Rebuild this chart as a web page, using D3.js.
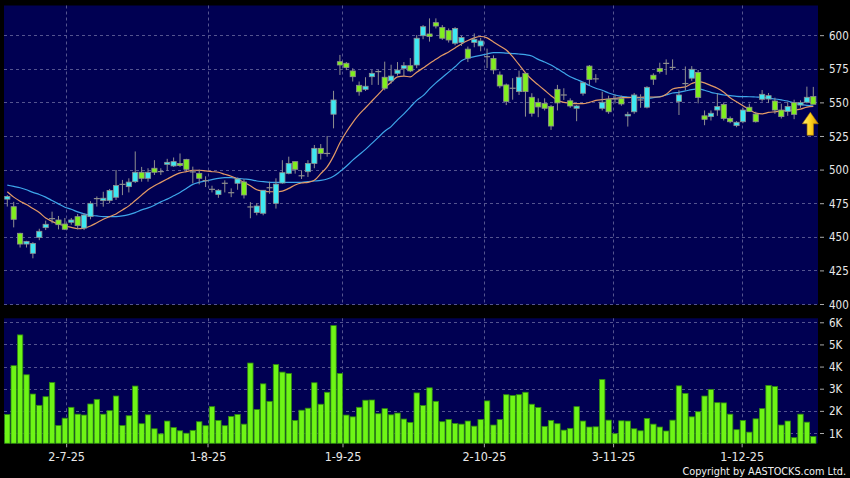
<!DOCTYPE html>
<html>
<head>
<meta charset="utf-8">
<script src="https://cdn.jsdelivr.net/npm/d3@7"></script>
<style>
html,body{margin:0;padding:0;background:#000;}
svg{display:block;}
text{font-family:"DejaVu Sans Condensed","DejaVu Sans",sans-serif;font-stretch:condensed;}
</style>
</head>
<body>
<svg id="chart" width="850" height="478"></svg>
<script>
// ---------- DATA ----------
const opens = [478,472.4,452.6,444.6,437.7,449.6,456.8,463.5,462.5,459.5,
460.8,465,456.5,465,478.4,476.9,477,479.4,489,487.3,
491,498,493.5,501,498.5,503.9,502.7,504.6,507.6,498.3,
497.2,491.8,485.3,481.4,489.8,482.8,489.8,490.8,472.2,468,
467.5,486.5,474.9,490,497.2,505.9,495.4,498.4,504.6,515.8,
512,541.2,580.3,579.1,573.4,562.7,559.7,569.1,572.9,568.7,
566,571.6,575.3,577.3,577.8,599.6,600.9,609.3,605.8,603.4,
594,594.6,589.6,594.6,592,584,582.7,570.4,563,560.5,
558,571.6,553.8,550,549.3,546.9,559.7,555.5,551.2,545.6,
556.8,577,567.5,545.6,552.4,552.5,552.8,539.9,543,551.8,
546.4,570.2,575.3,579,576,550.6,564,568,572.3,540,
539.4,544.3,548.5,538.1,532.7,535.6,546.4,541.3,552.3,552.5,
551,544.3,543.2,549.8,548,550.1,554.3];
const highs = [481,476,453,447,446,456,462,468.7,465.5,464,
464,467,467.5,476.5,480,483.5,485.6,499.7,492.3,493.5,
513.5,502,501,507,501,508,509,512,508,502.2,
500,495,488,485.5,492,486,494,493,475.8,475,
484.8,491,493.5,507,509.6,506,499.5,507,518.3,519,
525,558.6,585.3,580,575.4,565.5,568.7,574,574,580.3,
578,580,580,583,600.1,607.5,612.5,612.5,607.5,605,
606,599.5,591.5,601.3,598,590,585,573,564,568,
573.6,572,556.8,553,553,548,563,560.5,553,548,
565.5,577.8,571,558,555,555.8,555,543,557,556,
562,571.6,579.5,582,582,559,576.7,577,574.1,544,
544,556.7,550,539.5,536,546,549,543,559.2,557,
553.5,549,550.5,552,551.5,561.7,561.5];
const lows = [472.5,457,442,442,434,447.5,455,460,455.5,455,
459,455.5,455,463,472.5,472.4,475,477.4,481,483,
490,491,491,496,496,499,502,502,499,489.8,
489,487,483,479,483,479.5,485,478.5,463.8,466,
466,482,471,489.5,496.5,497,493,494.5,501,507.5,
509.6,530.7,570.4,574,565.5,555,558.5,563,563,559,
564,570,569.5,572.5,575.5,597,595.2,605,596.5,594.5,
592.5,592,580,591,588,575.5,571,560.5,548,552,
555.5,539.4,539.4,539,544,529.5,544,551.8,546,536,
555,563,564.7,544,541.5,549.2,547.5,532,541.5,546,
545.5,563,571.5,570.5,574,540.6,559,566,549.3,533,
536.5,540,536.5,534.5,531.5,534.5,543,535,550.6,549.5,
541.5,538,540,537.5,546,549.3,548.6];
const closes = [480,463,444.6,446.6,445.1,454.1,459.3,463.5,459,455.6,
462.5,458.3,466.2,474.9,478.4,478.7,484.4,488.1,489,490.7,
498,493.5,498,498,498.5,505.4,505.9,503,500.2,498.3,
493.5,491.8,485.3,484.6,489.8,482.8,493,481.1,472.2,472.9,
484.6,486.5,489.2,497.7,504.6,500.2,495.4,504.6,515.8,512,
512,551.8,577.8,575.9,569.1,557.9,562,571.6,572.9,560.5,
569.6,574,577.3,573.4,597.7,606.3,599,606.8,597.7,596.4,
605,598.2,582.9,596.9,595.7,584,574.1,562.2,550.6,560.5,
568.7,558,541.9,546.6,545.6,532.4,549.6,555.5,547.3,547.3,
564.6,567,567.5,550.1,543,552.5,548.8,541.1,555.5,551.8,
561.2,567.2,572.9,579,576,555.5,564,574.6,553.7,537.4,
541.9,546.9,538.1,535.6,535.2,544.3,543.2,535.6,556,555,
544.3,539.4,546.9,541.1,549.8,553.8,548.6];
const volumesK = [1.84,4.04,5.43,3.63,2.76,2.25,2.64,3.28,1.34,1.67,
2.16,1.85,1.81,2.31,2.52,1.85,2.01,2.67,1.34,1.78,
3.12,1.42,1.82,1.19,0.96,1.54,1.25,1.10,0.99,1.12,
1.51,1.33,2.19,1.57,1.33,1.75,1.84,1.40,4.16,2.06,
3.22,2.43,4.09,3.75,3.69,1.57,2.03,2.12,3.27,2.30,
2.84,5.85,3.69,1.81,1.73,2.16,2.48,2.49,1.87,2.10,
1.82,1.90,1.63,1.48,2.81,2.24,3.04,2.43,1.51,1.61,
1.43,1.40,1.54,1.31,1.61,2.45,1.36,1.61,2.73,2.69,
2.73,2.84,2.30,2.15,1.30,1.57,1.42,1.13,1.21,2.19,
1.54,1.27,1.28,3.42,1.58,0.97,1.55,1.54,1.19,1.10,
1.66,1.40,1.27,1.09,1.58,3.13,2.79,1.73,1.96,2.67,
2.97,2.37,2.36,1.85,1.15,1.57,1.04,1.64,2.10,3.15,
3.10,1.36,1.54,0.79,1.85,1.49,0.84];
const maShort = [483.5,479.5,476.5,474,471,468,464,461.5,459.5,458,
457,456,456.5,458,460.5,463,465,467,470,473,
477,481,485,488,490.5,493,495.5,497.5,498.5,499.5,
499.5,499,498.5,498,496.5,495,493,490.5,488,485,
484,483.5,483.5,484,486,488.5,490,490.5,492,497,
502,510,520,528,535,541,546,551,556,561,
565,569,569.5,569,572.5,575.5,579,582,585,587.5,
590.5,593.5,596,598,599,598,595,592,589,584,
578,572,567,563,559,555,551.5,550,549.5,549,
549,550,551.5,552,552.5,553,553.5,553.5,553.8,553.8,
554,554,554,556,560,561,561.5,564,565.5,564.5,
562.5,560.5,557.5,553.5,550.5,547.5,544.5,542,541.5,542.5,
543,543.5,544,544.3,545,546.5,547];
const maLong = [488.5,487.5,486.5,485,483,481.5,479.5,477,474.5,472,
470.5,468.5,467,466,465.5,465,465,465,465.5,466.5,
468,470,471.5,473.5,476,478,480.5,483,486,489,
490.5,491.5,492.5,493.5,494,494,493.5,493,492.5,491.5,
491,490.5,490.5,490.5,490.5,490.5,490.5,491,491.5,492,
493,495,498.5,502.5,507,511,515,519.5,524,528.5,
532,537,541.5,546.5,551.5,555,560,564.5,568.5,572.5,
576.5,581,583,584,585,586,587,587,586.6,586.3,
586,585.5,584.5,582,580,577.8,575,572,569,567,
565,562.5,560.5,559,557,555.5,554.5,554,553.6,553.3,
553,553.5,554.3,555.5,557,557.5,558.5,559.5,560,559,
557.5,556.5,555.5,555,554.5,554.3,554.2,554,553.8,553,
552.5,551.8,551,549.5,548.5,547.8,547.3];
const priceTicks = [400,425,450,475,500,525,550,575,600];
const volTicks = [1,2,3,4,5,6];
const volTickLabels = ["1K","2K","3K","4K","5K","6K"];
const dateTickLabels = ["2-7-25","1-8-25","1-9-25","2-10-25","3-11-25","1-12-25"];
const dateTickIdx = [9.2,31.3,52.4,74.5,94.7,114.8];
const copyright = "Copyright by AASTOCKS.com Ltd.";

// ---------- LAYOUT ----------
const svg = d3.select("#chart");
const P = {l:4, r:818, top:5.5, bottom:304.5};
const V = {top:318.3, bottom:443.3};
const N = closes.length;

const x = d3.scaleLinear().domain([0, N-1]).range([7.3, 813.3]);
const y = d3.scaleLinear().domain([400, 622]).range([304, 5.6]);
const yv = d3.scaleLinear().domain([0.535, 6.18]).range([443.3, 318.3]);

const panelFill = "#000052";
const gridCol = "#54548f";

// panels
svg.append("rect").attr("x",P.l).attr("y",P.top).attr("width",P.r-P.l).attr("height",P.bottom-P.top).attr("fill",panelFill);
svg.append("rect").attr("x",P.l).attr("y",V.top).attr("width",P.r-P.l).attr("height",V.bottom-V.top).attr("fill",panelFill);

// price grid
const gP = svg.append("g");
gP.selectAll("line.h").data(priceTicks).join("line")
  .attr("x1",P.l).attr("x2",P.r).attr("y1",d=>Math.round(y(d))+0.5).attr("y2",d=>Math.round(y(d))+0.5)
  .attr("stroke",gridCol).attr("stroke-dasharray","3,3").attr("stroke-width",1);
gP.selectAll("line.v").data(dateTickIdx).join("line")
  .attr("x1",d=>Math.round(x(d))+0.5).attr("x2",d=>Math.round(x(d))+0.5).attr("y1",P.top).attr("y2",P.bottom)
  .attr("stroke",gridCol).attr("stroke-dasharray","3,3").attr("stroke-width",1);

// volume grid
const gV = svg.append("g");
gV.selectAll("line.h").data(volTicks).join("line")
  .attr("x1",P.l).attr("x2",P.r).attr("y1",d=>Math.round(yv(d))+0.5).attr("y2",d=>Math.round(yv(d))+0.5)
  .attr("stroke",gridCol).attr("stroke-dasharray","3,3").attr("stroke-width",1);
gV.selectAll("line.v").data(dateTickIdx).join("line")
  .attr("x1",d=>Math.round(x(d))+0.5).attr("x2",d=>Math.round(x(d))+0.5).attr("y1",V.top).attr("y2",V.bottom)
  .attr("stroke",gridCol).attr("stroke-dasharray","3,3").attr("stroke-width",1);

// right axes
const axisCol = "#e8e8e8";
const yAxis = d3.axisRight(y).tickValues(priceTicks).tickSize(4).tickPadding(5);
const ga = svg.append("g").attr("transform",`translate(${P.r+2},0)`).call(yAxis);
ga.select(".domain").remove();
ga.selectAll("line").attr("stroke","#aaaaaa");
ga.selectAll("text").attr("fill",axisCol).style("font-size","11.5px").attr("dy","0.35em");

const vAxis = d3.axisRight(yv).tickValues(volTicks).tickFormat((d,i)=>volTickLabels[i]).tickSize(4).tickPadding(5);
const gva = svg.append("g").attr("transform",`translate(${P.r+2},0)`).call(vAxis);
gva.select(".domain").remove();
gva.selectAll("line").attr("stroke","#aaaaaa");
gva.selectAll("text").attr("fill",axisCol).style("font-size","11.5px").attr("dy","0.35em");

// bottom date axis
const xAxis = d3.axisBottom(x).tickValues(dateTickIdx).tickFormat((d,i)=>dateTickLabels[i]).tickSize(4).tickPadding(5);
const gx = svg.append("g").attr("transform",`translate(0,${V.bottom})`).call(xAxis);
gx.select(".domain").remove();
gx.selectAll("line").attr("stroke","#aaaaaa");
gx.selectAll("text").attr("fill",axisCol).style("font-size","12.5px");

// volume bars
svg.append("g").selectAll("rect").data(volumesK).join("rect")
  .attr("x",(d,i)=>x(i)-2.7).attr("width",5.4)
  .attr("y",d=>yv(d)).attr("height",d=>V.bottom-yv(d))
  .attr("fill","#6ef516").attr("stroke","#2f8a10").attr("stroke-width",0.8);

// moving averages
const line = d3.line().x((d,i)=>x(i)).y(d=>y(d)).curve(d3.curveMonotoneX);
svg.append("path").datum(maLong).attr("d",line).attr("fill","none").attr("stroke","#3ea6ea").attr("stroke-width",1.2);
svg.append("path").datum(maShort).attr("d",line).attr("fill","none").attr("stroke","#e39a66").attr("stroke-width",1.2);

// candles
const cUp = "#3ee8f2", cDown = "#80ee1e", cEdge = "#8f8f8f";
const cg = svg.append("g").selectAll("g").data(closes.map((c,i)=>({i,o:opens[i],h:highs[i],l:lows[i],c}))).join("g");
cg.append("line").attr("x1",d=>x(d.i)).attr("x2",d=>x(d.i)).attr("y1",d=>y(d.h)).attr("y2",d=>y(d.l))
  .attr("stroke",cEdge).attr("stroke-width",1);
cg.each(function(d){
  const g = d3.select(this);
  if (d.o === d.c) {
    g.append("line").attr("x1",x(d.i)-3).attr("x2",x(d.i)+3).attr("y1",y(d.o)).attr("y2",y(d.o))
      .attr("stroke",cEdge).attr("stroke-width",1.2);
  } else {
    const top = y(Math.max(d.o,d.c)), bot = y(Math.min(d.o,d.c));
    g.append("rect").attr("x",x(d.i)-2.6).attr("width",5.2)
      .attr("y",top).attr("height",Math.max(1.5,bot-top))
      .attr("fill",d.c>d.o?cUp:cDown).attr("stroke",cEdge).attr("stroke-width",0.8);
  }
});

// last-candle arrow
const defs = svg.append("defs");
const grad = defs.append("linearGradient").attr("id","arrowGrad").attr("x1","0").attr("x2","1");
grad.append("stop").attr("offset","0").attr("stop-color","#fff07a");
grad.append("stop").attr("offset","0.5").attr("stop-color","#ffd21e");
grad.append("stop").attr("offset","1").attr("stop-color","#d99a00");
const ax = x(N-1) - 3, ay = y(lows[N-1]) + 8;
svg.append("path")
  .attr("d",`M${ax},${ay} L${ax+8},${ay+11.5} L${ax+3.2},${ay+11.5} L${ax+3.2},${ay+23} L${ax-3.2},${ay+23} L${ax-3.2},${ay+11.5} L${ax-8},${ay+11.5} Z`)
  .attr("fill","url(#arrowGrad)").attr("stroke","#b07800").attr("stroke-width",0.6);

// copyright
svg.append("text").attr("x",846).attr("y",475).attr("text-anchor","end")
  .attr("fill","#f0f0f0").style("font-size","10.8px").text(copyright);
</script>
</body>
</html>
